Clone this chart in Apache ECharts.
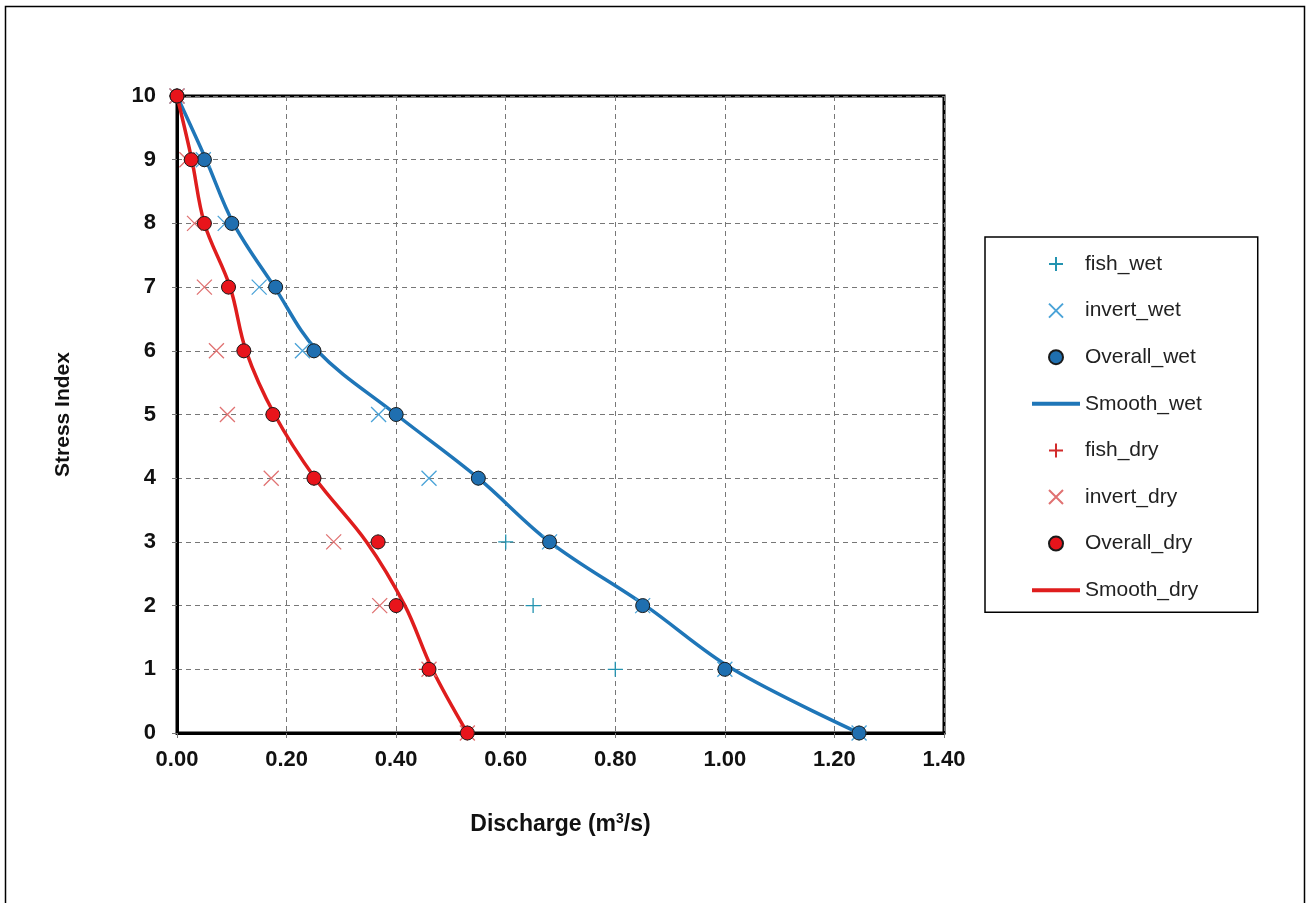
<!DOCTYPE html>
<html>
<head>
<meta charset="utf-8">
<script src="https://cdn.jsdelivr.net/npm/echarts@6/dist/echarts.min.js"></script>
<style>
html,body{margin:0;padding:0;background:#fff;}
#chart{width:1306px;height:903px;}
</style>
</head>
<body>
<div id="chart"></div>
<script>
// Stress index levels (y values)
const stressIndex = [0, 1, 2, 3, 4, 5, 6, 7, 8, 9, 10];
// Discharge (m3/s) at each stress index
const fishWet     = [1.245, 0.80, 0.65, 0.60, 0.55, 0.40, 0.25, 0.18, 0.10, 0.05, 0.00];
const invertWet   = [1.245, 1.00, 0.85, 0.68, 0.46, 0.368, 0.229, 0.15, 0.088, 0.048, 0.00];
const overallWet  = [1.245, 1.00, 0.85, 0.68, 0.55, 0.40, 0.25, 0.18, 0.10, 0.05, 0.00];
const smoothWet   = [1.245, 1.015, 0.855, 0.68, 0.55, 0.40, 0.256, 0.178, 0.103, 0.053, 0.00];
const fishDry     = [0.53, 0.455, 0.40, 0.367, 0.25, 0.175, 0.122, 0.094, 0.05, 0.026, 0.00];
const invertDry   = [0.53, 0.46, 0.37, 0.286, 0.172, 0.092, 0.072, 0.05, 0.032, 0.018, 0.00];
const overallDry  = [0.53, 0.46, 0.40, 0.367, 0.25, 0.175, 0.122, 0.094, 0.05, 0.026, 0.00];
const smoothDry   = [0.53, 0.466, 0.416, 0.346, 0.252, 0.178, 0.126, 0.097, 0.05, 0.027, 0.00];
const xTicks = [0, 0.2, 0.4, 0.6, 0.8, 1.0, 1.2, 1.4];

const pairs = (xs) => xs.map((x, i) => [x, stressIndex[i]]);

const PLUS = 'path://M0,6H12M6,0V12';
const CROSS = 'path://M0,0L12,12M12,0L0,12';
const FONT = '"Liberation Sans", Arial, sans-serif';
const BLUE_LINE = '#1f76b8';
const RED_LINE = '#df1d1d';

function markSeries(name, data, symbol, color, size, bw) {
  return {
    name, type: 'scatter', data: pairs(data), symbol, symbolSize: size, z: 3,
    itemStyle: { color: 'rgba(0,0,0,0)', borderColor: color, borderWidth: bw, opacity: 1 },
    emphasis: { disabled: true }
  };
}
function dotSeries(name, data, color) {
  return {
    name, type: 'scatter', data: pairs(data), symbol: 'circle', symbolSize: 14, z: 4,
    itemStyle: { color, borderColor: '#1a1a1a', borderWidth: 1, opacity: 1 },
    emphasis: { disabled: true }
  };
}
function lineSeries(name, data, color) {
  return {
    name, type: 'line', data: pairs(data), smooth: 0.35, symbol: 'none', z: 2,
    lineStyle: { color, width: 3.5 }, itemStyle: { color },
    emphasis: { disabled: true }
  };
}

const chart = echarts.init(document.getElementById('chart'), null, { renderer: 'canvas' });
chart.setOption({
  animation: false,
  backgroundColor: '#fff',
  textStyle: { fontFamily: FONT },
  graphic: [{
    type: 'rect', shape: { x: 5.5, y: 6.5, width: 1299, height: 920 },
    style: { fill: 'none', stroke: '#000', lineWidth: 1.5 }, silent: true, z: -1
  }],
  grid: {
    left: 177, right: 362, top: 96, bottom: 170,
    show: true, borderColor: '#000', borderWidth: 3, backgroundColor: '#fff'
  },
  legend: {
    orient: 'vertical', left: 985, top: 237,
    padding: [15, 56, 10, 45], itemGap: 22.6, itemWidth: 48, itemHeight: 14,
    borderColor: '#000', borderWidth: 1.5, backgroundColor: '#fff',
    textStyle: { fontFamily: FONT, fontSize: 21, lineHeight: 24, color: '#222' },
    data: [
      'fish_wet', 'invert_wet', 'Overall_wet',
      { name: 'Smooth_wet', itemStyle: { color: 'rgba(0,0,0,0)', borderWidth: 0 }, lineStyle: { color: BLUE_LINE, width: 4 } },
      'fish_dry', 'invert_dry', 'Overall_dry',
      { name: 'Smooth_dry', itemStyle: { color: 'rgba(0,0,0,0)', borderWidth: 0 }, lineStyle: { color: RED_LINE, width: 4 } }
    ]
  },
  xAxis: {
    type: 'value', min: 0, max: 1.4, interval: 0.2,
    name: '{b|Discharge (m}{sup|3}{b|/s)}', nameLocation: 'middle', nameGap: 79,
    nameTextStyle: {
      fontFamily: FONT, fontWeight: 'bold', fontSize: 23, color: '#111',
      rich: {
        b: { fontFamily: FONT, fontWeight: 'bold', fontSize: 23, color: '#111', lineHeight: 26 },
        sup: { fontFamily: FONT, fontWeight: 'bold', fontSize: 14, color: '#111', verticalAlign: 'top', lineHeight: 26, padding: [0, 0, 10, 0] }
      }
    },
    axisLine: { show: true, onZero: false, lineStyle: { color: '#000', width: 3 } },
    axisTick: { show: true, inside: false, length: 5, lineStyle: { color: '#777' } },
    axisLabel: {
      margin: 16, fontFamily: FONT, fontWeight: 'bold', fontSize: 22, color: '#111',
      formatter: (v) => xTicks.some(t => Math.abs(t - v) < 1e-9) ? v.toFixed(2) : ''
    },
    splitLine: { show: true, lineStyle: { color: '#777', width: 1, type: [5, 4] } }
  },
  yAxis: {
    type: 'value', min: 0, max: 10, interval: 1,
    name: 'Stress Index', nameLocation: 'middle', nameGap: 103, nameRotate: 90,
    nameTextStyle: { fontFamily: FONT, fontWeight: 'bold', fontSize: 21, color: '#111' },
    axisLine: { show: true, onZero: false, lineStyle: { color: '#000', width: 3 } },
    axisTick: { show: true, inside: false, length: 5, lineStyle: { color: '#777' } },
    axisLabel: { margin: 21, fontFamily: FONT, fontWeight: 'bold', fontSize: 22, color: '#111' },
    splitLine: { show: true, lineStyle: { color: '#777', width: 1, type: [5, 4] } }
  },
  series: [
    markSeries('fish_wet', fishWet, PLUS, '#2393b0', 15, 1.3),
    markSeries('invert_wet', invertWet, CROSS, '#4aa3d8', 15, 1.3),
    dotSeries('Overall_wet', overallWet, '#1f6fb0'),
    lineSeries('Smooth_wet', smoothWet, BLUE_LINE),
    markSeries('fish_dry', fishDry, PLUS, '#d22b2b', 15, 1.3),
    markSeries('invert_dry', invertDry, CROSS, '#e07272', 15, 1.3),
    dotSeries('Overall_dry', overallDry, '#e8141b'),
    lineSeries('Smooth_dry', smoothDry, RED_LINE)
  ]
});
</script>
</body>
</html>
